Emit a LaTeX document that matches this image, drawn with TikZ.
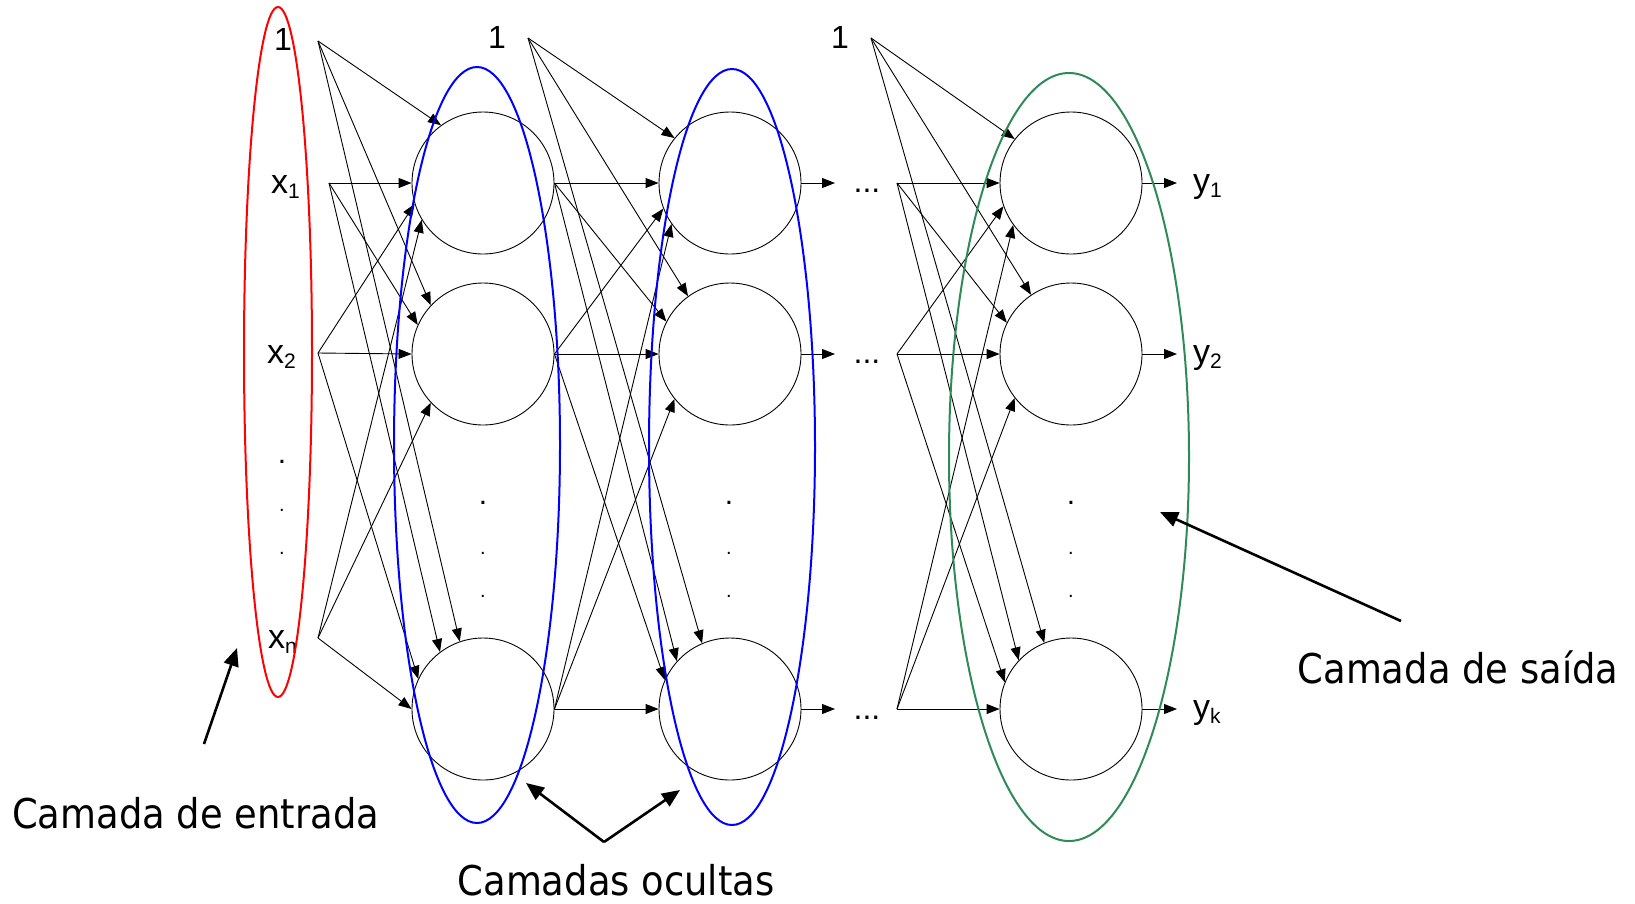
\documentclass[tikz,border=0pt]{standalone}
\usepackage{fontspec}
\setmainfont{Liberation Sans}
\newfontfamily\notefont[FakeStretch=0.9]{DejaVu Sans}
\usetikzlibrary{arrows.meta,shapes.geometric}
\definecolor{inred}{HTML}{FF0000}
\definecolor{hidblue}{HTML}{0000FF}
\definecolor{outgreen}{HTML}{2E8B57}
\tikzset{
  neuron/.style={
    circle, draw=black, line width=0.9pt,
    minimum size=142pt, inner sep=0pt
  },
  synapse/.style={
    -{Triangle[length=13pt,width=10pt]}, line width=0.9pt
  },
  layerring/.style={
    ellipse, draw=#1, line width=2pt, inner sep=0pt
  },
  layerring/.default=hidblue,
  notearrow/.style={
    -{Triangle[length=18pt,width=15pt]}, line width=2.6pt
  },
  biaslabel/.style={
    font=\fontsize{32}{32}\selectfont, inner sep=0pt, anchor=base
  },
  varlabel/.style={
    font=\fontsize{34}{34}\selectfont, inner sep=0pt, anchor=base west
  },
  notelabel/.style={
    font=\notefont\fontsize{41}{41}\selectfont, inner sep=0pt
  },
  dotmark/.style={
    font=\fontsize{#1}{#1}\selectfont, inner sep=0pt
  },
  dotmark/.default=20,
}
\newcommand{\idx}[1]{\raisebox{-5pt}{\fontsize{21}{21}\selectfont #1}}

\begin{document}
\begin{tikzpicture}[x=1pt, y=-1pt]
  \useasboundingbox (0,0) rectangle (1635,903);

  % Input layer
  \node[biaslabel] (one0) at (283,50) {1};
  \node[varlabel] (lx1) at (271,193) {x\idx{1}};
  \node[varlabel] (lx2) at (267,363) {x\idx{2}};
  \node[varlabel] (lxn) at (268,648) {x\idx{n}};
  \node[dotmark=30] (ind1) at (282,462) {.};
  \node[dotmark] (ind2) at (282,510) {.};
  \node[dotmark] (ind3) at (282,553) {.};
  \coordinate (bias0) at (318,41);
  \coordinate (in1) at (329,183);
  \coordinate (in2) at (318,353);
  \coordinate (inn) at (318,638);

  % Hidden layer 1
  \node[neuron] (ha1) at (483,183) {};
  \node[neuron] (ha2) at (483,354) {};
  \node[neuron] (han) at (483,709) {};
  \node[dotmark=30] (had1) at (483,503) {.};
  \node[dotmark] (had2) at (483,553) {.};
  \node[dotmark] (had3) at (483,596) {.};
  \node[biaslabel] (one1) at (497,48) {1};
  \coordinate (bias1) at (528,38);

  % Hidden layer 2
  \node[neuron] (hb1) at (730,183) {};
  \node[neuron] (hb2) at (730,354) {};
  \node[neuron] (hbn) at (730,709) {};
  \node[dotmark=30] (hbd1) at (729,503) {.};
  \node[dotmark] (hbd2) at (729,553) {.};
  \node[dotmark] (hbd3) at (729,596) {.};
  \node[biaslabel] (one2) at (840,48) {1};
  \coordinate (bias2) at (871,38);
  \coordinate (gap1) at (835,183);
  \coordinate (gap2) at (835,354);
  \coordinate (gapn) at (835,709);
  \node[dotmark=32] (ell1) at (867,191) {...};
  \node[dotmark=32] (ell2) at (867,362) {...};
  \node[dotmark=32] (elln) at (867,718) {...};
  \coordinate (mid1) at (897,183);
  \coordinate (mid2) at (897,354);
  \coordinate (midn) at (897,709);

  % Output layer
  \node[neuron] (o1) at (1071,183) {};
  \node[neuron] (o2) at (1071,354) {};
  \node[neuron] (on) at (1071,709) {};
  \node[dotmark=30] (od1) at (1071,503) {.};
  \node[dotmark] (od2) at (1071,553) {.};
  \node[dotmark] (od3) at (1071,596) {.};
  \coordinate (out1) at (1177,183);
  \coordinate (out2) at (1177,354);
  \coordinate (outn) at (1177,709);
  \node[varlabel] (ly1) at (1193,192) {y\idx{1}};
  \node[varlabel] (ly2) at (1193,363) {y\idx{2}};
  \node[varlabel] (lyk) at (1193,718) {y\idx{k}};

  % input -> hidden 1
  \draw[synapse] (bias0) -- (ha1.126);
  \draw[synapse] (bias0) -- (ha2.137);
  \draw[synapse] (bias0) -- (han.109);
  \draw[synapse] (in1) -- (ha1.180);
  \draw[synapse] (in1) -- (ha2.156);
  \draw[synapse] (in1) -- (han.127);
  \draw[synapse] (in2) -- (ha1.197);
  \draw[synapse] (in2) -- (ha2.180);
  \draw[synapse] (in2) -- (han.155);
  \draw[synapse] (inn) -- (ha1.211);
  \draw[synapse] (inn) -- (ha2.223);
  \draw[synapse] (inn) -- (han.180);

  % hidden 1 -> hidden 2
  \draw[synapse] (bias1) -- (hb1.141);
  \draw[synapse] (bias1) -- (hb2.126);
  \draw[synapse] (bias1) -- (hbn.113);
  \draw[synapse] (ha1.east) -- (hb1.180);
  \draw[synapse] (ha1.east) -- (hb2.153);
  \draw[synapse] (ha1.east) -- (hbn.138);
  \draw[synapse] (ha2.east) -- (hb1.201);
  \draw[synapse] (ha2.east) -- (hb2.180);
  \draw[synapse] (ha2.east) -- (hbn.156);
  \draw[synapse] (han.east) -- (hb1.215);
  \draw[synapse] (han.east) -- (hb2.219);
  \draw[synapse] (han.east) -- (hbn.180);

  % hidden 2 -> ... -> output
  \draw[synapse] (hb1.east) -- (gap1);
  \draw[synapse] (hb2.east) -- (gap2);
  \draw[synapse] (hbn.east) -- (gapn);
  \draw[synapse] (bias2) -- (o1.142);
  \draw[synapse] (bias2) -- (o2.124);
  \draw[synapse] (bias2) -- (on.112);
  \draw[synapse] (mid1) -- (o1.180);
  \draw[synapse] (mid1) -- (o2.154);
  \draw[synapse] (mid1) -- (on.137);
  \draw[synapse] (mid2) -- (o1.199);
  \draw[synapse] (mid2) -- (o2.180);
  \draw[synapse] (mid2) -- (on.158);
  \draw[synapse] (midn) -- (o1.216);
  \draw[synapse] (midn) -- (o2.218);
  \draw[synapse] (midn) -- (on.180);
  \draw[synapse] (o1.east) -- (out1);
  \draw[synapse] (o2.east) -- (out2);
  \draw[synapse] (on.east) -- (outn);

  % layer rings
  \node[layerring=inred, minimum width=68pt, minimum height=690pt] (inring) at (278,352) {};
  \node[layerring, minimum width=166pt, minimum height=756pt] (hidring1) at (477,445) {};
  \node[layerring, minimum width=166pt, minimum height=756pt] (hidring2) at (732,447) {};
  \node[layerring=outgreen, minimum width=240pt, minimum height=768pt] (outring) at (1069,457) {};

  % notes
  \node[notelabel, anchor=base west] (noteIn) at (12,828) {Camada de entrada};
  \node[notelabel, anchor=base] (noteHid) at (616,895) {Camadas ocultas};
  \node[notelabel, anchor=base] (noteOut) at (1458,683) {Camada de saída};
  \coordinate (inTail) at (204,744);
  \coordinate (inTip) at (237,648);
  \coordinate (hidTipA) at (526,783);
  \coordinate (hidVertex) at (604,842);
  \coordinate (hidTipB) at (680,790);
  \coordinate (outTail) at (1401,621);
  \coordinate (outTip) at (1160,512);
  \draw[notearrow] (inTail) -- (inTip);
  \draw[notearrow] (hidVertex) -- (hidTipA);
  \draw[notearrow] (hidVertex) -- (hidTipB);
  \draw[notearrow] (outTail) -- (outTip);
\end{tikzpicture}
\end{document}
